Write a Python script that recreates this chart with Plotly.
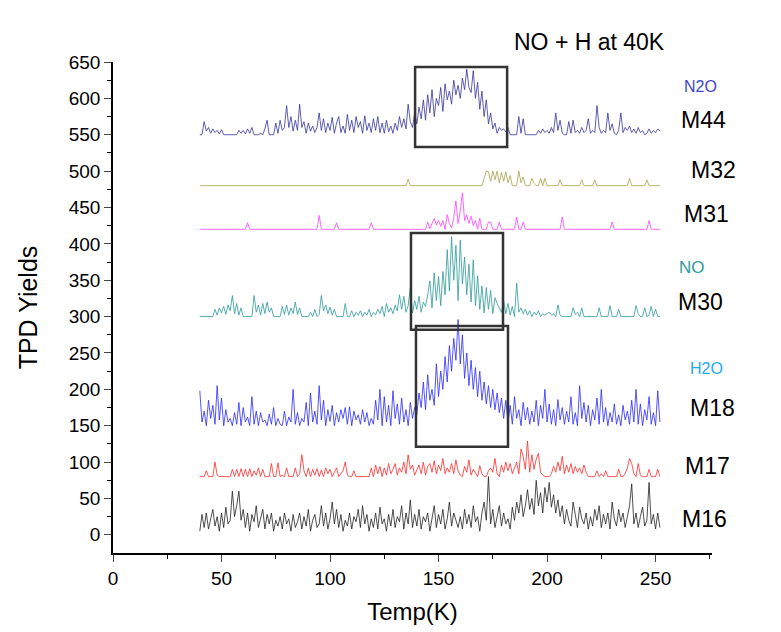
import plotly.graph_objects as go

temps = list(range(40, 253))

m44 = [
550,550,568,555,560,552,558,553,556,551,557,550,550,550,550,550,550,550,556,552,
556,551,558,552,560,550,550,550,552,550,558,570,550,550,550,566,552,570,556,560,
590,560,575,555,570,556,592,560,568,552,566,555,562,553,560,580,556,572,553,566,
556,574,552,566,575,553,562,552,578,556,570,553,575,560,568,552,576,556,566,553,
572,556,575,553,566,552,570,554,562,552,566,556,575,560,572,558,592,568,560,580,
565,588,572,598,570,605,580,612,575,600,590,615,582,620,598,610,592,625,605,618,
600,628,612,640,615,608,638,600,622,585,610,575,598,565,580,558,566,552,560,556,
558,554,560,550,550,550,550,575,552,572,550,550,550,550,550,550,556,552,558,553,
556,552,560,553,580,556,570,552,550,550,568,552,570,553,556,552,560,553,556,572,
552,556,553,590,560,552,556,553,580,556,565,552,550,556,580,553,560,556,562,553,
558,552,560,553,556,550,552,558,552,556,553,558,555]

m32 = [
480,480,480,480,480,480,480,480,480,480,
480,480,480,480,480,480,480,480,480,480,
480,480,480,480,480,480,480,480,480,480,
480,480,480,480,480,480,480,480,480,480,
480,480,480,480,480,480,480,480,480,480,
480,480,480,480,480,480,480,480,480,480,
480,480,480,480,480,480,480,480,480,480,
480,480,480,480,480,480,480,480,480,480,
480,480,480,480,480,480,480,480,480,480,
480,480,480,480,480,480,489,480,480,480,
480,480,480,480,480,480,480,480,480,480,
480,480,480,480,480,480,480,480,480,480,
480,480,480,480,480,480,480,480,480,480,
480,490,500,499,486,500,488,500,484,498,
486,499,484,494,480,480,480,500,484,492,
480,480,480,490,483,480,480,490,480,490,
480,480,480,480,480,480,488,480,480,480,
480,480,480,480,480,480,488,480,480,480,
480,480,488,480,480,480,480,480,480,480,
480,480,480,480,480,480,480,480,490,480,
480,480,480,480,480,480,488,480,480,480,
480,480,480]

m31 = [
420,420,420,420,420,420,420,420,420,420,
420,420,420,420,420,420,420,420,420,420,
420,420,429,420,420,420,420,420,420,420,
420,420,420,420,420,420,420,420,420,420,
420,420,420,420,420,420,420,420,420,420,
420,420,420,420,420,439,420,420,420,420,
420,420,420,429,420,420,420,420,420,420,
420,420,420,420,420,420,420,420,420,429,
420,420,420,420,420,420,420,420,420,420,
420,420,420,420,420,420,420,420,420,420,
420,420,420,420,420,430,421,428,435,426,
432,424,432,420,440,428,422,436,459,428,
445,470,432,440,428,438,425,432,420,435,
420,420,420,430,430,420,420,420,430,420,
420,420,420,420,420,420,437,420,420,430,
420,420,420,420,420,420,420,420,420,420,
420,420,420,420,420,420,420,437,420,420,
420,420,420,420,420,420,420,420,420,420,
420,420,420,420,420,420,420,420,420,420,
430,420,420,420,420,420,420,420,420,420,
420,420,420,420,420,420,420,432,420,420,
420,420,420]

m30 = [
300,300,300,300,300,300,300,310,302,312,
305,314,303,316,308,329,304,318,302,312,
300,300,300,300,300,329,306,316,302,318,
304,320,306,312,300,300,300,300,314,303,
316,302,312,304,320,303,312,300,300,300,
300,306,300,310,300,303,329,308,316,304,
313,302,310,300,300,300,300,318,300,300,
308,300,306,302,308,300,306,302,310,300,
306,302,310,304,314,300,318,306,312,304,
316,308,330,310,328,306,315,340,305,322,
310,328,306,320,314,330,349,312,360,322,
355,315,362,330,392,335,410,350,398,322,
405,345,382,330,372,320,378,315,356,310,
342,305,340,310,336,304,326,318,312,306,
322,304,318,302,314,300,346,306,312,304,
310,302,308,300,306,302,308,300,304,302,
304,306,302,304,300,316,302,300,300,300,
300,300,312,303,306,300,312,300,300,300,
300,300,300,300,312,300,300,300,300,315,
300,300,300,310,300,300,300,300,300,300,
300,315,304,300,300,312,300,302,314,300,
310,300,300]

m18 = [
198,155,170,150,185,160,178,152,205,158,188,150,172,155,160,150,168,152,182,150,
175,155,162,150,190,152,170,150,168,155,158,150,166,152,175,150,160,152,150,170,
150,162,155,200,152,168,150,160,155,182,150,195,155,170,152,205,158,185,150,172,
156,178,150,168,155,172,160,175,152,176,150,170,158,165,152,172,155,168,150,160,
152,185,158,200,150,190,155,178,150,198,160,180,152,188,155,172,150,182,160,175,
165,195,175,210,172,220,185,200,178,235,190,225,200,245,210,260,225,270,240,296,
235,275,215,250,205,240,200,230,190,225,185,210,180,205,175,200,172,195,168,188,
160,185,155,178,152,190,160,172,150,182,158,175,152,170,155,185,150,178,160,200,
155,180,152,172,150,186,158,175,152,170,155,190,152,168,150,205,160,182,155,178,
150,172,158,188,152,200,155,175,150,168,155,180,152,165,150,178,158,170,152,185,
155,200,152,180,150,172,158,190,152,168,150,198,155]

m17 = [
80,80,80,88,80,80,80,100,82,80,
80,80,80,80,80,90,80,90,80,91,
80,90,80,91,80,88,82,92,80,90,
80,80,80,98,80,80,99,80,82,80,
92,80,80,80,92,80,84,110,88,80,
92,80,90,82,91,80,89,80,92,84,
90,80,86,92,80,84,88,100,82,80,
80,88,80,80,80,80,80,80,80,92,
80,96,84,94,80,92,82,98,84,90,
98,82,92,86,100,84,110,90,96,82,
88,96,84,100,82,94,98,86,102,84,
96,88,105,84,92,86,98,84,103,88,
82,80,94,86,103,82,90,84,80,95,
84,80,80,88,92,86,105,84,80,96,
86,100,88,98,84,92,100,84,118,108,
90,129,86,110,90,104,112,86,82,80,
80,80,84,94,86,100,88,108,84,96,
86,98,84,94,86,92,84,96,86,80,
80,80,80,88,80,84,80,88,80,80,
80,80,80,90,80,80,84,92,105,98,
84,80,98,82,80,80,80,90,80,80,
80,90,80]

m16 = [
5,28,10,30,8,22,35,12,25,5,30,10,38,15,20,60,25,40,60,20,
35,10,30,5,28,18,40,10,22,35,8,28,15,30,5,20,12,25,8,30,
15,22,5,28,10,18,30,8,25,12,35,5,20,28,10,15,40,12,30,8,
22,45,15,35,10,28,5,20,12,30,8,25,18,35,10,40,15,28,5,22,
10,30,8,38,15,22,5,28,12,35,10,25,18,40,8,30,15,48,10,28,
12,35,8,25,18,30,5,22,40,10,28,15,35,8,22,45,12,30,20,10,
25,8,35,15,28,10,40,18,25,5,30,45,20,80,15,35,10,28,40,12,
30,15,22,8,38,20,45,30,55,25,40,62,35,50,28,75,40,58,30,65,
45,72,38,55,30,48,25,40,15,35,20,12,45,28,10,38,22,15,30,8,
25,12,35,20,40,10,28,15,30,8,45,22,12,35,18,30,10,25,40,70,
15,30,10,25,38,12,20,72,15,28,8,30,10]

series = [
    ("M44", m44, "#35359f"),
    ("M32", m32, "#a3a348"),
    ("M31", m31, "#ff40ff"),
    ("M30", m30, "#2e9a9a"),
    ("M18", m18, "#2a2aff"),
    ("M17", m17, "#ff2a2a"),
    ("M16", m16, "#222222"),
]

fig = go.Figure()
for name, vals, col in series:
    fig.add_trace(go.Scatter(x=temps, y=vals, mode="lines", name=name,
                             line=dict(color=col, width=0.8)))

# highlight boxes (x0, x1, y0, y1)
boxes = [(139.2, 181.6, 533, 643), (137.3, 179.7, 282, 415), (139.6, 182.0, 121, 287)]
for x0, x1, y0, y1 in boxes:
    fig.add_shape(type="rect", xref="x", yref="y", x0=x0, x1=x1, y0=y0, y1=y1,
                  line=dict(color="#333333", width=2.5))

# text labels in paper coordinates
labels = [
    ("NO + H at 40K", 0.796, 1.041, "black", 23),
    ("N2O", 0.980, 0.951, "#4444cc", 16),
    ("M44", 0.985, 0.882, "black", 23),
    ("M32", 1.002, 0.780, "black", 23),
    ("M31", 0.990, 0.690, "black", 23),
    ("NO", 0.967, 0.582, "#2e9a9a", 17),
    ("M30", 0.980, 0.511, "black", 23),
    ("H2O", 0.990, 0.375, "#22aaee", 16),
    ("M18", 1.000, 0.295, "black", 23),
    ("M17", 0.993, 0.177, "black", 23),
    ("M16", 0.988, 0.069, "black", 23),
]
for txt, x, y, col, sz in labels:
    fig.add_annotation(text=txt, x=x, y=y, xref="paper", yref="paper", showarrow=False,
                       xanchor="center", yanchor="middle",
                       font=dict(color=col, size=sz, family="Liberation Sans"))

fig.update_layout(
    width=781, height=632,
    margin=dict(l=113, r=69, t=62, b=79),
    plot_bgcolor="white", paper_bgcolor="white",
    showlegend=False,
    font=dict(family="Liberation Sans", size=19, color="black"),
)
fig.update_xaxes(range=[0, 276], tickvals=[0, 50, 100, 150, 200, 250],
                 ticks="outside", ticklen=7, tickwidth=1.2, showline=True,
                 linecolor="black", linewidth=1.5, showgrid=False, zeroline=False,
                 minor=dict(tickvals=[25, 75, 125, 175, 225, 275], ticks="outside",
                            ticklen=4, tickwidth=1.2, tickcolor="black"),
                 title=dict(text="Temp(K)", font=dict(size=24), standoff=16))
fig.update_yaxes(range=[-25, 650], tickvals=list(range(0, 651, 50)),
                 ticks="outside", ticklen=7, tickwidth=1.2, showline=True,
                 linecolor="black", linewidth=1.5, showgrid=False, zeroline=False,
                 minor=dict(tickvals=list(range(25, 651, 50)), ticks="outside",
                            ticklen=4, tickwidth=1.2, tickcolor="black"),
                 title=dict(text="TPD Yields", font=dict(size=25), standoff=24))

fig.write_html("out.html")
